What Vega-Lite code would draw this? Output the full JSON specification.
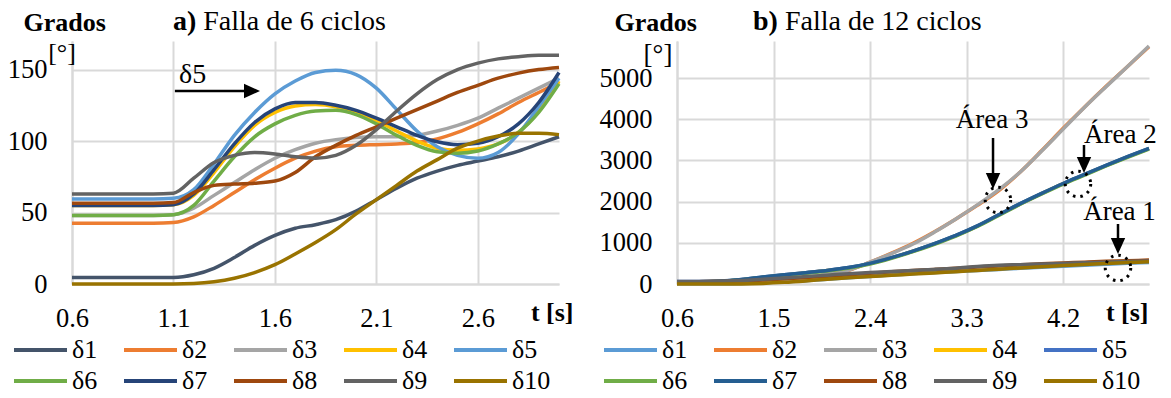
{
  "$schema": "https://vega.github.io/schema/vega-lite/v6.json",
  "background": "white",
  "padding": {"left": 7, "top": 7, "right": 0, "bottom": 0},
  "spacing": 118,
  "bounds": "flush",
  "config": {
    "view": {"stroke": null},
    "axis": {
      "gridColor": "#d9d9d9", "gridWidth": 2, "domainColor": "#d9d9d9", "domainWidth": 2,
      "ticks": false, "tickSize": 0,
      "labelFont": "Liberation Serif", "labelFontSize": 26.5, "labelColor": "#000",
      "labelFlush": false, "labelOverlap": false,
      "titleFont": "Liberation Serif", "titleFontSize": 26, "titleFontWeight": "bold", "titleColor": "#000",
      "titleBaseline": "alphabetic"
    },
    "axisX": {"labelPadding": 21, "titleAlign": "right", "titleY": 36, "titleAngle": 0},
    "axisY": {"labelPadding": 25, "titleAlign": "left", "titleY": -11, "titleAngle": 0},
    "legend": {
      "orient": "none", "direction": "horizontal", "columns": 5, "title": null,
      "symbolType": "stroke", "symbolSize": 2809, "symbolStrokeWidth": 4, "clipHeight": 26,
      "labelFont": "Liberation Serif", "labelFontSize": 26, "labelColor": "#000",
      "labelOffset": 3, "columnPadding": 24, "rowPadding": 5, "labelLimit": 0,
      "gridAlign": "each", "padding": 0, "offset": 0
    }
  },
  "datasets": {
    "left": [
      {"t": 0.6, "δ1": 4.5, "δ2": 42.5, "δ3": 48, "δ4": 55, "δ5": 59.5, "δ6": 48, "δ7": 55, "δ8": 56.5, "δ9": 63, "δ10": 0},
      {"t": 1.0, "δ1": 4.5, "δ2": 42.5, "δ3": 48, "δ4": 55, "δ5": 59.5, "δ6": 48, "δ7": 55, "δ8": 56.5, "δ9": 63, "δ10": 0},
      {"t": 1.1, "δ1": 4.6, "δ2": 43, "δ3": 48.5, "δ4": 55.5, "δ5": 60, "δ6": 48.5, "δ7": 55.5, "δ8": 57, "δ9": 63.5, "δ10": 0},
      {"t": 1.2, "δ1": 6.5, "δ2": 47, "δ3": 53, "δ4": 62, "δ5": 66, "δ6": 55, "δ7": 63, "δ8": 64, "δ9": 74, "δ10": 0.3},
      {"t": 1.3, "δ1": 11, "δ2": 55, "δ3": 62, "δ4": 78, "δ5": 84, "δ6": 72, "δ7": 80, "δ8": 69, "δ9": 85, "δ10": 1.5},
      {"t": 1.4, "δ1": 18.5, "δ2": 64, "δ3": 71, "δ4": 96, "δ5": 104, "δ6": 89, "δ7": 98, "δ8": 70, "δ9": 90, "δ10": 4},
      {"t": 1.5, "δ1": 27, "δ2": 73, "δ3": 80, "δ4": 111, "δ5": 120, "δ6": 103, "δ7": 113, "δ8": 70.5, "δ9": 92, "δ10": 8},
      {"t": 1.6, "δ1": 34, "δ2": 81, "δ3": 88, "δ4": 120, "δ5": 133, "δ6": 112, "δ7": 122.5, "δ8": 72, "δ9": 91, "δ10": 13.5},
      {"t": 1.7, "δ1": 39, "δ2": 88, "δ3": 94, "δ4": 124.5, "δ5": 142, "δ6": 118, "δ7": 127, "δ8": 78, "δ9": 89, "δ10": 21},
      {"t": 1.8, "δ1": 41.5, "δ2": 93, "δ3": 98.5, "δ4": 125.5, "δ5": 148, "δ6": 121, "δ7": 127, "δ8": 89, "δ9": 88, "δ10": 29},
      {"t": 1.9, "δ1": 45, "δ2": 96, "δ3": 101, "δ4": 124, "δ5": 149.5, "δ6": 121.5, "δ7": 125, "δ8": 97, "δ9": 90, "δ10": 38},
      {"t": 2.0, "δ1": 51, "δ2": 97, "δ3": 102.5, "δ4": 120, "δ5": 146.5, "δ6": 118.5, "δ7": 121.5, "δ8": 104, "δ9": 97, "δ10": 49},
      {"t": 2.1, "δ1": 59, "δ2": 97.5, "δ3": 103, "δ4": 114.5, "δ5": 137, "δ6": 112, "δ7": 116, "δ8": 110, "δ9": 108, "δ10": 59},
      {"t": 2.2, "δ1": 67, "δ2": 98, "δ3": 103, "δ4": 107, "δ5": 122, "δ6": 104, "δ7": 110, "δ8": 116, "δ9": 121, "δ10": 69},
      {"t": 2.3, "δ1": 74, "δ2": 99, "δ3": 104, "δ4": 100, "δ5": 107, "δ6": 97, "δ7": 104, "δ8": 122, "δ9": 133, "δ10": 79},
      {"t": 2.4, "δ1": 79, "δ2": 101.5, "δ3": 107, "δ4": 95, "δ5": 96, "δ6": 92.5, "δ7": 99.5, "δ8": 128, "δ9": 143, "δ10": 87},
      {"t": 2.5, "δ1": 83, "δ2": 106, "δ3": 111, "δ4": 93.5, "δ5": 90, "δ6": 91.5, "δ7": 97.5, "δ8": 134, "δ9": 150, "δ10": 95},
      {"t": 2.6, "δ1": 86, "δ2": 112, "δ3": 116, "δ4": 94.5, "δ5": 88, "δ6": 93, "δ7": 98.5, "δ8": 139, "δ9": 154.5, "δ10": 100},
      {"t": 2.7, "δ1": 89, "δ2": 119, "δ3": 123, "δ4": 98, "δ5": 92, "δ6": 98, "δ7": 103, "δ8": 144, "δ9": 157.5, "δ10": 103.5},
      {"t": 2.8, "δ1": 93, "δ2": 127, "δ3": 130, "δ4": 106, "δ5": 105, "δ6": 106, "δ7": 112, "δ8": 147.5, "δ9": 159, "δ10": 105.5},
      {"t": 2.9, "δ1": 98, "δ2": 134, "δ3": 137, "δ4": 121, "δ5": 124, "δ6": 120, "δ7": 127, "δ8": 150, "δ9": 160, "δ10": 105.5},
      {"t": 3.0, "δ1": 103, "δ2": 141, "δ3": 144, "δ4": 142, "δ5": 144, "δ6": 140, "δ7": 148, "δ8": 151.5, "δ9": 160, "δ10": 104.5}
    ],
    "right": [
      {"t": 0.6, "δ1": 4.5, "δ2": 43, "δ3": 48, "δ4": 55, "δ5": 59.5, "δ6": 48, "δ7": 55, "δ8": 56.5, "δ9": 63, "δ10": 0},
      {"t": 0.8, "δ1": 4.5, "δ2": 43, "δ3": 48, "δ4": 55, "δ5": 59.5, "δ6": 48, "δ7": 55, "δ8": 57, "δ9": 63, "δ10": 0},
      {"t": 1.0, "δ1": 5, "δ2": 45, "δ3": 50, "δ4": 62, "δ5": 68, "δ6": 58, "δ7": 70, "δ8": 60, "δ9": 66, "δ10": 0},
      {"t": 1.2, "δ1": 12, "δ2": 55, "δ3": 60, "δ4": 105, "δ5": 110, "δ6": 100, "δ7": 110, "δ8": 75, "δ9": 85, "δ10": 3},
      {"t": 1.4, "δ1": 30, "δ2": 80, "δ3": 85, "δ4": 165, "δ5": 170, "δ6": 160, "δ7": 170, "δ8": 95, "δ9": 115, "δ10": 15},
      {"t": 1.6, "δ1": 55, "δ2": 110, "δ3": 115, "δ4": 220, "δ5": 225, "δ6": 212, "δ7": 225, "δ8": 125, "δ9": 145, "δ10": 40},
      {"t": 1.8, "δ1": 80, "δ2": 150, "δ3": 155, "δ4": 272, "δ5": 275, "δ6": 262, "δ7": 275, "δ8": 155, "δ9": 180, "δ10": 75},
      {"t": 2.0, "δ1": 115, "δ2": 235, "δ3": 240, "δ4": 328, "δ5": 330, "δ6": 318, "δ7": 330, "δ8": 190, "δ9": 215, "δ10": 115},
      {"t": 2.2, "δ1": 150, "δ2": 335, "δ3": 340, "δ4": 395, "δ5": 400, "δ6": 385, "δ7": 400, "δ8": 225, "δ9": 250, "δ10": 150},
      {"t": 2.4, "δ1": 185, "δ2": 530, "δ3": 530, "δ4": 495, "δ5": 500, "δ6": 485, "δ7": 500, "δ8": 260, "δ9": 280, "δ10": 180},
      {"t": 2.6, "δ1": 220, "δ2": 750, "δ3": 740, "δ4": 635, "δ5": 640, "δ6": 625, "δ7": 640, "δ8": 295, "δ9": 305, "δ10": 210},
      {"t": 2.8, "δ1": 250, "δ2": 990, "δ3": 970, "δ4": 795, "δ5": 800, "δ6": 785, "δ7": 800, "δ8": 325, "δ9": 330, "δ10": 240},
      {"t": 3.0, "δ1": 280, "δ2": 1270, "δ3": 1260, "δ4": 975, "δ5": 980, "δ6": 965, "δ7": 980, "δ8": 355, "δ9": 355, "δ10": 270},
      {"t": 3.2, "δ1": 305, "δ2": 1580, "δ3": 1580, "δ4": 1175, "δ5": 1180, "δ6": 1165, "δ7": 1180, "δ8": 385, "δ9": 385, "δ10": 300},
      {"t": 3.4, "δ1": 330, "δ2": 1910, "δ3": 1920, "δ4": 1405, "δ5": 1410, "δ6": 1395, "δ7": 1410, "δ8": 410, "δ9": 425, "δ10": 330},
      {"t": 3.6, "δ1": 355, "δ2": 2270, "δ3": 2290, "δ4": 1675, "δ5": 1680, "δ6": 1665, "δ7": 1680, "δ8": 440, "δ9": 455, "δ10": 360},
      {"t": 3.8, "δ1": 380, "δ2": 2720, "δ3": 2720, "δ4": 1945, "δ5": 1950, "δ6": 1935, "δ7": 1950, "δ8": 465, "δ9": 470, "δ10": 390},
      {"t": 4.0, "δ1": 405, "δ2": 3240, "δ3": 3230, "δ4": 2195, "δ5": 2200, "δ6": 2185, "δ7": 2200, "δ8": 490, "δ9": 485, "δ10": 420},
      {"t": 4.2, "δ1": 430, "δ2": 3780, "δ3": 3760, "δ4": 2435, "δ5": 2440, "δ6": 2425, "δ7": 2440, "δ8": 510, "δ9": 500, "δ10": 448},
      {"t": 4.4, "δ1": 455, "δ2": 4300, "δ3": 4290, "δ4": 2655, "δ5": 2660, "δ6": 2645, "δ7": 2660, "δ8": 530, "δ9": 515, "δ10": 475},
      {"t": 4.6, "δ1": 480, "δ2": 4800, "δ3": 4790, "δ4": 2875, "δ5": 2880, "δ6": 2865, "δ7": 2880, "δ8": 550, "δ9": 530, "δ10": 500},
      {"t": 4.8, "δ1": 503, "δ2": 5280, "δ3": 5280, "δ4": 3085, "δ5": 3090, "δ6": 3075, "δ7": 3090, "δ8": 565, "δ9": 545, "δ10": 520},
      {"t": 5.0, "δ1": 525, "δ2": 5760, "δ3": 5780, "δ4": 3285, "δ5": 3290, "δ6": 3275, "δ7": 3290, "δ8": 580, "δ9": 560, "δ10": 540}
    ]
  },
  "resolve": {
    "scale": {"x": "independent", "y": "independent", "color": "independent"},
    "legend": {"color": "independent"}
  },
  "hconcat": [
    {
      "width": 487,
      "height": 243,
      "layer": [
        {
          "data": {"name": "left"},
          "transform": [{"fold": ["δ1", "δ2", "δ3", "δ4", "δ5", "δ6", "δ7", "δ8", "δ9", "δ10"], "as": ["s", "v"]}],
          "mark": {"type": "line", "interpolate": "monotone", "strokeWidth": 3.5},
          "encoding": {
            "x": {"field": "t", "type": "quantitative",
                  "scale": {"domain": [0.6, 3.0], "nice": false, "zero": false},
                  "axis": {"values": [0.6, 1.1, 1.6, 2.1, 2.6], "format": ".1f", "title": "t [s]", "titleX": 501}},
            "y": {"field": "v", "type": "quantitative",
                  "scale": {"domain": [0, 170], "nice": false},
                  "axis": {"values": [0, 50, 100, 150], "format": "d", "title": "Grados", "titleX": -49}},
            "color": {"field": "s", "type": "nominal",
                      "scale": {"domain": ["δ1", "δ2", "δ3", "δ4", "δ5", "δ6", "δ7", "δ8", "δ9", "δ10"],
                                "range": ["#44546A", "#ED7D31", "#A5A5A5", "#FFC000", "#5B9BD5", "#70AD47", "#264478", "#9E480E", "#636363", "#997300"]},
                      "legend": {"legendX": -60, "legendY": 296}}
          }
        },
        {
          "data": {"values": [
            {"t": 1.127, "v": 140.6, "label": "δ5"},
            {"t": 1.2468, "v": 177.7, "label": "Falla de 6 ciclos"}
          ]},
          "mark": {"type": "text", "align": "left", "baseline": "alphabetic", "fontSize": 28, "font": "Liberation Serif", "color": "#000"},
          "encoding": {
            "x": {"field": "t", "type": "quantitative"},
            "y": {"field": "v", "type": "quantitative"},
            "text": {"field": "label"}
          }
        },
        {
          "data": {"values": [{"t": 1.0975, "v": 177.7, "label": "a)"}]},
          "mark": {"type": "text", "align": "left", "baseline": "alphabetic", "fontSize": 28, "fontWeight": "bold", "font": "Liberation Serif", "color": "#000"},
          "encoding": {
            "x": {"field": "t", "type": "quantitative"},
            "y": {"field": "v", "type": "quantitative"},
            "text": {"field": "label"}
          }
        },
        {
          "data": {"values": [{"t": 0.5507, "v": 156, "label": "[°]"}]},
          "mark": {"type": "text", "align": "center", "baseline": "alphabetic", "fontSize": 26, "font": "Liberation Serif", "color": "#000"},
          "encoding": {
            "x": {"field": "t", "type": "quantitative"},
            "y": {"field": "v", "type": "quantitative"},
            "text": {"field": "label"}
          }
        },
        {
          "data": {"values": [{"t": 1.107, "t2": 1.487, "v": 135}]},
          "mark": {"type": "rule", "strokeWidth": 2.5, "color": "#000"},
          "encoding": {
            "x": {"field": "t", "type": "quantitative"},
            "x2": {"field": "t2"},
            "y": {"field": "v", "type": "quantitative"}
          }
        },
        {
          "data": {"values": [{"t": 1.487, "v": 135}]},
          "mark": {"type": "point", "shape": "M-1,-0.9L1,0L-1,0.9Z", "filled": true, "color": "#000", "size": 256, "opacity": 1, "strokeWidth": 0},
          "encoding": {
            "x": {"field": "t", "type": "quantitative"},
            "y": {"field": "v", "type": "quantitative"}
          }
        }
      ]
    },
    {
      "width": 472,
      "height": 243,
      "layer": [
        {
          "data": {"name": "right"},
          "transform": [{"fold": ["δ1", "δ2", "δ3", "δ4", "δ5", "δ6", "δ7", "δ8", "δ9", "δ10"], "as": ["s", "v"]}],
          "mark": {"type": "line", "interpolate": "monotone", "strokeWidth": 3.5},
          "encoding": {
            "x": {"field": "t", "type": "quantitative",
                  "scale": {"domain": [0.6, 5.0], "nice": false, "zero": false},
                  "axis": {"values": [0.6, 1.5, 2.4, 3.3, 4.2], "format": ".1f", "title": "t [s]", "titleX": 471}},
            "y": {"field": "v", "type": "quantitative",
                  "scale": {"domain": [0, 5900], "nice": false},
                  "axis": {"values": [0, 1000, 2000, 3000, 4000, 5000], "format": "d", "title": "Grados", "titleX": -63}},
            "color": {"field": "s", "type": "nominal",
                      "scale": {"domain": ["δ1", "δ2", "δ3", "δ4", "δ5", "δ6", "δ7", "δ8", "δ9", "δ10"],
                                "range": ["#5B9BD5", "#ED7D31", "#A5A5A5", "#FFC000", "#4472C4", "#70AD47", "#255E91", "#9E480E", "#636363", "#997300"]},
                      "legend": {"legendX": -75, "legendY": 296}}
          }
        },
        {
          "data": {"values": [
            {"t": 1.606, "v": 6167, "label": "Falla de 12 ciclos"}
          ]},
          "mark": {"type": "text", "align": "left", "baseline": "alphabetic", "fontSize": 28, "font": "Liberation Serif", "color": "#000"},
          "encoding": {
            "x": {"field": "t", "type": "quantitative"},
            "y": {"field": "v", "type": "quantitative"},
            "text": {"field": "label"}
          }
        },
        {
          "data": {"values": [{"t": 1.3085, "v": 6167, "label": "b)"}]},
          "mark": {"type": "text", "align": "left", "baseline": "alphabetic", "fontSize": 28, "fontWeight": "bold", "font": "Liberation Serif", "color": "#000"},
          "encoding": {
            "x": {"field": "t", "type": "quantitative"},
            "y": {"field": "v", "type": "quantitative"},
            "text": {"field": "label"}
          }
        },
        {
          "data": {"values": [
            {"t": 0.423, "v": 5366, "label": "[°]"},
            {"t": 3.537, "v": 3788, "label": "Área 3"},
            {"t": 4.734, "v": 3423, "label": "Área 2"},
            {"t": 4.725, "v": 1554, "label": "Área 1"}
          ]},
          "mark": {"type": "text", "align": "center", "baseline": "alphabetic", "fontSize": 27, "font": "Liberation Serif", "color": "#000"},
          "encoding": {
            "x": {"field": "t", "type": "quantitative"},
            "y": {"field": "v", "type": "quantitative"},
            "text": {"field": "label"}
          }
        },
        {
          "data": {"values": [
            {"t": 3.546, "v": 3545, "v2": 2501},
            {"t": 4.394, "v": 3375, "v2": 2889},
            {"t": 4.711, "v": 1457, "v2": 923}
          ]},
          "mark": {"type": "rule", "strokeWidth": 2.5, "color": "#000"},
          "encoding": {
            "x": {"field": "t", "type": "quantitative"},
            "y": {"field": "v", "type": "quantitative"},
            "y2": {"field": "v2"}
          }
        },
        {
          "data": {"values": [
            {"t": 3.546, "v": 2501},
            {"t": 4.394, "v": 2889},
            {"t": 4.711, "v": 923}
          ]},
          "mark": {"type": "point", "shape": "M-0.9,-1L0.9,-1L0,1Z", "filled": true, "color": "#000", "size": 256, "opacity": 1, "strokeWidth": 0},
          "encoding": {
            "x": {"field": "t", "type": "quantitative"},
            "y": {"field": "v", "type": "quantitative"}
          }
        },
        {
          "data": {"values": [
            {"t": 3.592, "v": 2040},
            {"t": 4.338, "v": 2428},
            {"t": 4.711, "v": 388}
          ]},
          "mark": {"type": "point", "shape": "circle", "filled": false, "stroke": "#000", "strokeWidth": 3, "strokeDash": [2.5, 5], "size": 650, "opacity": 1},
          "encoding": {
            "x": {"field": "t", "type": "quantitative"},
            "y": {"field": "v", "type": "quantitative"}
          }
        }
      ]
    }
  ]
}
